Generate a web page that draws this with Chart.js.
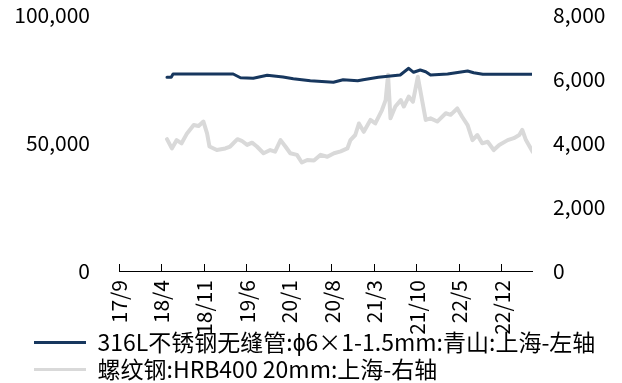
<!DOCTYPE html>
<html>
<head>
<meta charset="utf-8">
<script src="https://cdn.jsdelivr.net/npm/chart.js@4/dist/chart.umd.min.js"></script>
<style>
  html, body { margin: 0; padding: 0; background: #fff; }
  #wrap { width: 622px; height: 383px; }
</style>
</head>
<body>
<div id="wrap"><canvas id="chart"></canvas></div>
<script>
// x values are months counted from 2017/09
const xTickLabels = ['17/9', '18/4', '18/11', '19/6', '20/1', '20/8', '21/3', '21/10', '22/5', '22/12'];
const seriesNames = ['316L不锈钢无缝管:ϕ6×1-1.5mm:青山:上海-左轴', '螺纹钢:HRB400 20mm:上海-右轴'];

// 316L seamless pipe, left axis
const pipeMonths = [7.9, 8.6, 8.9, 18.8, 20.0, 22.1, 24.4, 27.0, 28.7, 31.5, 35.3, 36.9, 39.3, 40.2, 42.7, 46.3, 47.7, 48.5, 49.6, 50.5, 51.3, 54.1, 57.4, 58.4, 59.9, 68.1];
const pipeValues = [75660, 75660, 76950, 76950, 75500, 75270, 76450, 75780, 75120, 74340, 73710, 74730, 74340, 74730, 75660, 76560, 79180, 77620, 78520, 77850, 76560, 76950, 78130, 77460, 76840, 76840];

// rebar HRB400, right axis
const rebarMonths = [7.9, 8.7, 9.5, 10.3, 11.2, 12.3, 13.1, 13.9, 14.5, 14.9, 16.1, 17.5, 18.3, 19.5, 20.2, 21.1, 21.9, 22.7, 23.8, 24.9, 25.7, 26.6, 27.4, 28.2, 29.3, 30.1, 31.0, 32.1, 33.2, 34.3, 35.4, 36.5, 37.6, 38.1, 38.9, 39.5, 40.3, 41.4, 42.2, 43.3, 43.9, 44.3, 44.7, 45.5, 46.4, 46.9, 47.7, 48.4, 49.2, 49.9, 50.5, 51.3, 52.4, 53.8, 54.6, 55.7, 56.5, 57.4, 58.2, 59.0, 59.8, 60.7, 61.7, 62.6, 64.0, 65.0, 65.9, 66.4, 67.0, 68.1];
const rebarValues = [4120, 3830, 4090, 3990, 4300, 4560, 4530, 4670, 4300, 3890, 3780, 3830, 3890, 4120, 4070, 3940, 4010, 3890, 3680, 3780, 3730, 4090, 3890, 3680, 3630, 3390, 3470, 3450, 3630, 3570, 3680, 3740, 3830, 4090, 4250, 4610, 4350, 4720, 4610, 5030, 5340, 6130, 4770, 5140, 5340, 5140, 5450, 5290, 6070, 5340, 4720, 4770, 4670, 4930, 4880, 5080, 4820, 4560, 4090, 4250, 3990, 4040, 3780, 3940, 4090, 4150, 4250, 4410, 4090, 3730];

const COLORS = { pipe: '#17375e', rebar: '#d9d9d9', text: '#000000' };
const FONT = '"Noto Sans CJK SC", "Liberation Sans", sans-serif';

Chart.defaults.font.family = FONT;
Chart.defaults.color = COLORS.text;

const toPoints = (xs, ys) => xs.map((x, i) => ({ x, y: ys[i] }));
const fmt = v => v.toLocaleString('en-US');

// the original lets the long rotated date labels run into the legend rows,
// and indents the legend a bit
const overlapLayout = {
  id: 'overlapLayout',
  afterLayout(chart) {
    chart.scales.x.bottom = chart.height;
    chart.legend.left += 30;
  },
};

new Chart(document.getElementById('chart'), {
  type: 'line',
  data: {
    datasets: [
      { label: seriesNames[0], data: toPoints(pipeMonths, pipeValues), yAxisID: 'y', borderColor: COLORS.pipe, backgroundColor: COLORS.pipe, borderWidth: 3, pointRadius: 0, borderJoinStyle: 'round', borderCapStyle: 'round' },
      { label: seriesNames[1], data: toPoints(rebarMonths, rebarValues), yAxisID: 'y1', borderColor: COLORS.rebar, backgroundColor: COLORS.rebar, borderWidth: 4, pointRadius: 0, borderJoinStyle: 'round', borderCapStyle: 'round' },
    ],
  },
  plugins: [overlapLayout],
  options: {
    responsive: true,
    maintainAspectRatio: false,
    animation: false,
    layout: { padding: { left: 0, right: 0, top: 15, bottom: -8 } },
    plugins: {
      tooltip: { enabled: false },
      legend: {
        position: 'bottom',
        align: 'start',
        labels: {
          boxWidth: 52,
          boxHeight: 3,
          padding: 4,
          color: COLORS.text,
          font: { size: 23 },
          generateLabels: chart => Chart.defaults.plugins.legend.labels.generateLabels(chart).map(l => ({ ...l, lineWidth: 0 })),
        },
      },
    },
    scales: {
      x: {
        type: 'linear',
        min: 0,
        max: 68,
        afterBuildTicks: scale => { scale.ticks = scale.ticks.filter(t => t.value % 7 === 0); },
        afterFit: scale => { scale.height = 56; },
        ticks: { stepSize: 7, autoSkip: false, minRotation: 90, maxRotation: 90, padding: 16, font: { size: 21 }, callback: v => xTickLabels[v / 7] },
        grid: { drawOnChartArea: false, drawTicks: true, tickLength: -7, color: '#000' },
        border: { display: true, color: '#000', width: 1 },
      },
      y: {
        position: 'left',
        min: 0,
        max: 100000,
        afterFit: scale => { scale.width = 119; scale.paddingTop = 12; scale.paddingBottom = 12; },
        ticks: { stepSize: 50000, padding: 29, font: { size: 21 }, callback: v => fmt(v) },
        grid: { display: false, drawTicks: false },
        border: { display: false },
      },
      y1: {
        position: 'right',
        min: 0,
        max: 8000,
        afterFit: scale => { scale.width = 90; scale.paddingTop = 12; scale.paddingBottom = 12; },
        ticks: { stepSize: 2000, padding: 21, font: { size: 21 }, callback: v => fmt(v) },
        grid: { display: false, drawTicks: false },
        border: { display: false },
      },
    },
  },
});
</script>
</body>
</html>
